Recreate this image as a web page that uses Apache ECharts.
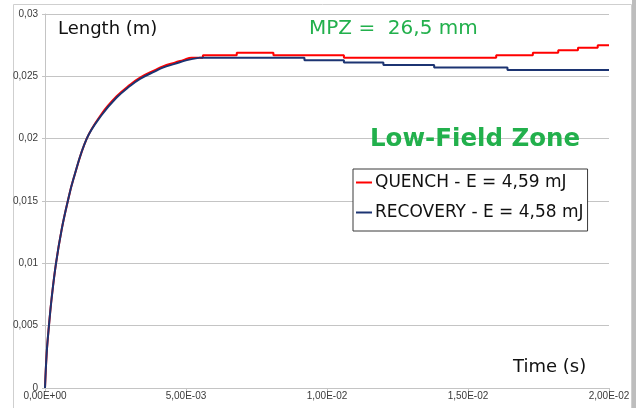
<!DOCTYPE html>
<html>
<head>
<meta charset="utf-8">
<script src="https://cdn.jsdelivr.net/npm/echarts@6/dist/echarts.min.js"></script>
<style>
html,body{margin:0;padding:0;background:#fff;}
#chart{width:636px;height:408px;}
</style>
</head>
<body>
<div id="chart"></div>
<script>
// ---- data ----
var seriesNames = ['QUENCH - E = 4,59 mJ', 'RECOVERY - E = 4,58 mJ'];

// rising part (smooth) and step part of each curve
var quenchRiseTime = [0, 0.00006, 0.00014, 0.00024, 0.00039, 0.00059, 0.00081, 0.00100, 0.00148, 0.00201, 0.00254, 0.00300, 0.00337, 0.00390, 0.00418, 0.00460, 0.00490, 0.00520, 0.00560];
var quenchRiseLength = [0, 0.0028, 0.0050, 0.0073, 0.0100, 0.0127, 0.0150, 0.0167, 0.0200, 0.0220, 0.0234, 0.0243, 0.0249, 0.0255, 0.0258, 0.0261, 0.0263, 0.0265, 0.0265];
var quenchStepTime = [0.00560, 0.00560, 0.00680, 0.00680, 0.00810, 0.00810, 0.01060, 0.01060, 0.01600, 0.01600, 0.01730, 0.01730, 0.01820, 0.01820, 0.01890, 0.01890, 0.01960, 0.01960, 0.02000];
var quenchStepLength = [0.0265, 0.0267, 0.0267, 0.0269, 0.0269, 0.0267, 0.0267, 0.0265, 0.0265, 0.0267, 0.0267, 0.0269, 0.0269, 0.0271, 0.0271, 0.0273, 0.0273, 0.0275, 0.0275];

var recoveryRiseTime = [0, 0.00006, 0.00014, 0.00024, 0.00039, 0.00059, 0.00081, 0.00100, 0.00148, 0.00201, 0.00254, 0.00300, 0.00337, 0.00390, 0.00418, 0.00460, 0.00503, 0.00550];
var recoveryRiseLength = [0, 0.0028, 0.0050, 0.0073, 0.0100, 0.0127, 0.0150, 0.0167, 0.0200, 0.0219, 0.0233, 0.0242, 0.0248, 0.0254, 0.0257, 0.0260, 0.0263, 0.0265];
var recoveryStepTime = [0.00550, 0.00920, 0.00920, 0.01060, 0.01060, 0.01200, 0.01200, 0.01380, 0.01380, 0.01640, 0.01640, 0.02000];
var recoveryStepLength = [0.0265, 0.0265, 0.0263, 0.0263, 0.0261, 0.0261, 0.0259, 0.0259, 0.0257, 0.0257, 0.0255, 0.0255];

var xTickLabels = ['0,00E+00', '5,00E-03', '1,00E-02', '1,50E-02', '2,00E-02'];
var yTickLabels = ['0', '0,005', '0,01', '0,015', '0,02', '0,025', '0,03'];

function zip(a, b) { return a.map(function (v, i) { return [v, b[i]]; }); }

var chart = echarts.init(document.getElementById('chart'), null, {renderer: 'canvas'});
var gridCol = '#c4c4c4';
var textFont = 'DejaVu Sans';
var green = '#22b04c';
var red = '#ff0000';
var navy = '#1c3472';

function lineSeries(name, data, color, smooth, z) {
  return {name: name, type: 'line', data: data, showSymbol: false, symbol: 'none', smooth: smooth,
    lineStyle: {color: color, width: 2}, itemStyle: {color: color}, z: z};
}

chart.setOption({
  animation: false,
  backgroundColor: '#ffffff',
  grid: {left: 45, right: 27, top: 14, bottom: 20, containLabel: false},
  xAxis: {
    type: 'value', min: 0, max: 0.02, interval: 0.005,
    axisLine: {show: true, lineStyle: {color: gridCol, width: 1}},
    axisTick: {show: true, length: 4, lineStyle: {color: gridCol}},
    splitLine: {show: false},
    axisLabel: {
      margin: 3, fontFamily: 'Liberation Sans', fontSize: 10, color: '#3a3a3a',
      formatter: function (v) { return xTickLabels[Math.round(v / 0.005)]; }
    }
  },
  yAxis: {
    type: 'value', min: 0, max: 0.03, interval: 0.005,
    axisLine: {show: true, lineStyle: {color: gridCol, width: 1}},
    axisTick: {show: true, length: 3, lineStyle: {color: gridCol}},
    splitLine: {show: true, lineStyle: {color: gridCol, width: 1}},
    axisLabel: {
      margin: 7, fontFamily: 'Liberation Sans', fontSize: 10, color: '#3a3a3a',
      formatter: function (v) { return yTickLabels[Math.round(v / 0.005)]; }
    }
  },
  legend: {
    orient: 'vertical', left: 353, top: 169,
    padding: [5, 4, 10, 3], itemGap: 13,
    backgroundColor: '#ffffff', borderColor: '#3a3a3a', borderWidth: 1,
    icon: 'rect', itemWidth: 16, itemHeight: 2,
    textStyle: {fontFamily: textFont, fontSize: 17, color: '#111', padding: [0, 0, 0, -2]},
    data: seriesNames
  },
  series: [
    lineSeries(seriesNames[0], zip(quenchRiseTime, quenchRiseLength), red, 0.4, 2),
    lineSeries(seriesNames[0], zip(quenchStepTime, quenchStepLength), red, false, 2),
    lineSeries(seriesNames[1], zip(recoveryRiseTime, recoveryRiseLength), navy, 0.4, 3),
    lineSeries(seriesNames[1], zip(recoveryStepTime, recoveryStepLength), navy, false, 3)
  ],
  graphic: [
    {type: 'rect', silent: true, z: -10, shape: {x: 13.5, y: 4.5, width: 618, height: 420},
      style: {fill: null, stroke: '#cfcfcf', lineWidth: 1}},
    {type: 'rect', silent: true, z: -10, shape: {x: 632, y: 0, width: 4, height: 408},
      style: {fill: '#bdbdbd'}},
    {type: 'text', left: 58, top: 20, z: 10,
      style: {text: 'Length (m)', font: '18px "DejaVu Sans"', fill: '#111'}},
    {type: 'text', left: 309, top: 19, z: 10,
      style: {text: 'MPZ =  26,5 mm', font: '20px "DejaVu Sans"', fill: green}},
    {type: 'text', left: 370, top: 127, z: 10,
      style: {text: 'Low-Field Zone', font: 'bold 24.5px "DejaVu Sans"', fill: green}},
    {type: 'text', left: 513, top: 358, z: 10,
      style: {text: 'Time (s)', font: '18px "DejaVu Sans"', fill: '#111'}}
  ]
});
</script>
</body>
</html>
